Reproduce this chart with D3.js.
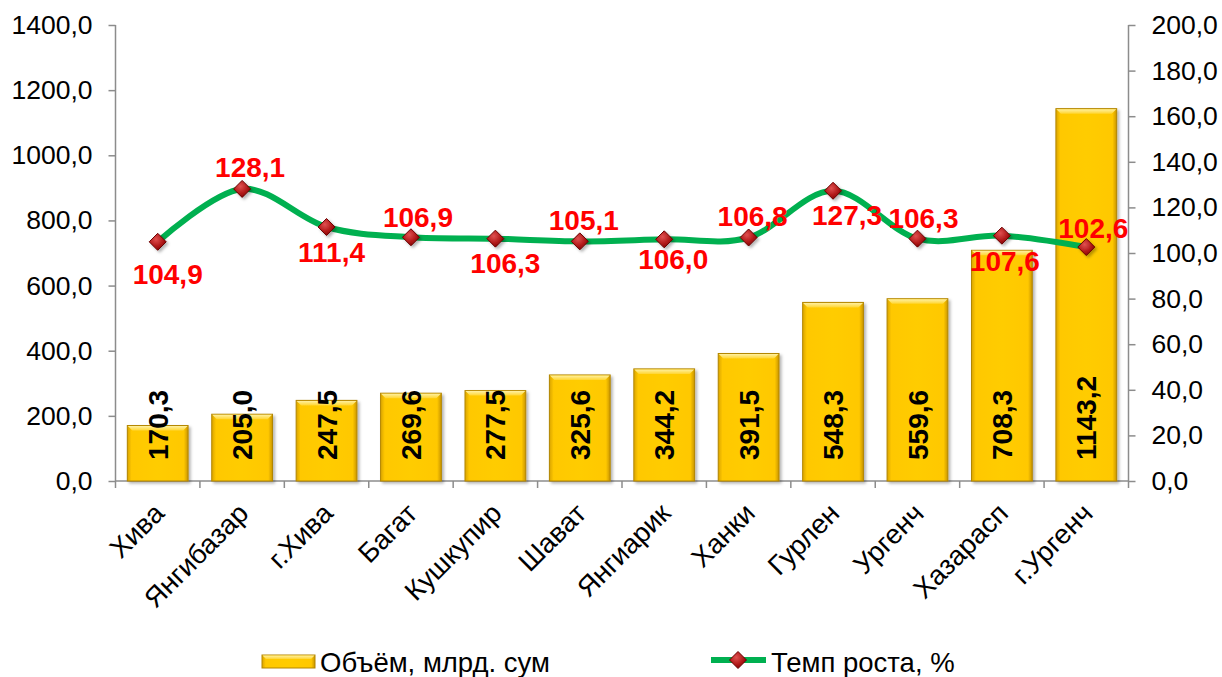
<!DOCTYPE html>
<html><head><meta charset="utf-8">
<script src="https://cdn.jsdelivr.net/npm/d3@7"></script>
<style>
html,body{margin:0;padding:0;background:#fff;}
svg{display:block;font-family:"Liberation Sans",Arial,sans-serif;}
</style></head>
<body>
<svg id="c" width="1222" height="677"></svg>
<script>
const categories = ["Хива","Янгибазар","г.Хива","Багат","Кушкупир","Шават","Янгиарик","Ханки","Гурлен","Ургенч","Хазарасп","г.Ургенч"];
const volume = [170.3,205.0,247.5,269.6,277.5,325.6,344.2,391.5,548.3,559.6,708.3,1143.2];
const growth = [104.9,128.1,111.4,106.9,106.3,105.1,106.0,106.8,127.3,106.3,107.6,102.6];
const leftTicks = [0,200,400,600,800,1000,1200,1400];
const rightTicks = [0,20,40,60,80,100,120,140,160,180,200];
const seriesNames = ["Объём, млрд. сум","Темп роста, %"];
// label placement for growth labels (layout config)
const growthLabelPos = [[10,32],[8,-22],[5,25],[7,-20],[10,24],[4,-21],[9,20],[4,-22],[14,24],[6,-21],[3,25],[7,-19]];

const svg = d3.select("#c");
const L = 115.5, R = 1128.5, T = 25, B = 481;
const fmt = v => d3.format(".1f")(v).replace(".", ",");

const x = d3.scaleBand().domain(categories).range([L, R]).paddingInner(0.28).paddingOuter(0.14);
const xc = d3.scaleBand().domain(categories).range([L, R]);
const yL = d3.scaleLinear().domain([0,1400]).range([B, T]);
const yR = d3.scaleLinear().domain([0,200]).range([B, T]);

const defs = svg.append("defs");
const gH = defs.append("linearGradient").attr("id","barH").attr("x1","0").attr("x2","1").attr("y1","0").attr("y2","0");
[[0,"#D9A400"],[0.07,"#FFC800"],[0.5,"#FFCC00"],[0.93,"#FFC800"],[1,"#C99500"]].forEach(s=>gH.append("stop").attr("offset",s[0]).attr("stop-color",s[1]));
const gT = defs.append("linearGradient").attr("id","barT").attr("x1","0").attr("x2","0").attr("y1","0").attr("y2","1");
[[0,"#FFF0A0"],[1,"#FFD633"]].forEach(s=>gT.append("stop").attr("offset",s[0]).attr("stop-color",s[1]));
const gM = defs.append("radialGradient").attr("id","mk").attr("cx","0.4").attr("cy","0.35").attr("r","0.7");
[[0,"#E05050"],[0.6,"#B01818"],[1,"#7A0000"]].forEach(s=>gM.append("stop").attr("offset",s[0]).attr("stop-color",s[1]));
const sh = defs.append("filter").attr("id","sh").attr("x","-20%").attr("y","-20%").attr("width","150%").attr("height","150%");
sh.append("feDropShadow").attr("dx",2).attr("dy",2).attr("stdDeviation",1.5).attr("flood-color","#000").attr("flood-opacity",0.3);

// axes
const axisColor = "#8C8C8C";
const gl = svg.append("g").attr("transform",`translate(${L},0)`).call(d3.axisLeft(yL).tickValues(leftTicks).tickFormat(fmt).tickSize(7).tickPadding(16));
const gr = svg.append("g").attr("transform",`translate(${R},0)`).call(d3.axisRight(yR).tickValues(rightTicks).tickFormat(fmt).tickSize(7).tickPadding(16));
[gl,gr].forEach(g=>{
  g.select(".domain").attr("stroke",axisColor).attr("stroke-width",1.5).attr("d", `M0,${T}V${B}`);
  g.selectAll(".tick line").attr("stroke",axisColor).attr("stroke-width",1.5);
  g.selectAll(".tick text").attr("font-size",26.5).attr("fill","#000").attr("font-family","Liberation Sans, Arial, sans-serif");
});
// x axis
const gx = svg.append("g");
gx.append("line").attr("x1",L).attr("x2",R).attr("y1",B).attr("y2",B).attr("stroke",axisColor).attr("stroke-width",1.5);
const bounds = categories.map(c=>xc(c)).concat([R]);
gx.selectAll("line.t").data(bounds).join("line").attr("class","t")
  .attr("x1",d=>d).attr("x2",d=>d).attr("y1",B).attr("y2",B+7).attr("stroke",axisColor).attr("stroke-width",1.5);
gx.selectAll("text").data(categories).join("text")
  .attr("transform",d=>`translate(${xc(d)+xc.bandwidth()/2+8},${B+34}) rotate(-45)`)
  .attr("text-anchor","end").attr("font-size",27.5).attr("fill","#000").text(d=>d);

// bars
const bars = svg.append("g");
const bg = bars.selectAll("g").data(categories).join("g").attr("filter","url(#sh)");
bg.append("rect").attr("x",d=>x(d)).attr("width",x.bandwidth())
  .attr("y",(d,i)=>yL(volume[i])).attr("height",(d,i)=>B-yL(volume[i]))
  .attr("fill","url(#barH)").attr("stroke","#B38600").attr("stroke-width",1);
bg.append("path").attr("d",(d,i)=>{const x0=x(d),w=x.bandwidth(),y0=yL(volume[i]);return `M${x0+0.5},${y0+0.5}H${x0+w-0.5}L${x0+w-5},${y0+5}H${x0+5}Z`;})
  .attr("fill","url(#barT)");
// bar labels
svg.append("g").selectAll("text").data(categories).join("text")
  .attr("transform",d=>`translate(${x(d)+x.bandwidth()/2},${B-21}) rotate(-90)`)
  .attr("dy","0.36em").attr("text-anchor","start").attr("font-size",28).attr("font-weight","bold").attr("fill","#000")
  .text((d,i)=>fmt(volume[i]));

// line
const cx = d => xc(d)+xc.bandwidth()/2;
const line = d3.line().x((d,i)=>cx(categories[i])).y(d=>yR(d)).curve(d3.curveCardinal.tension(0));
svg.append("path").datum(growth).attr("d",line).attr("fill","none").attr("stroke","#00B050").attr("stroke-width",6).attr("stroke-linejoin","round");
const diamond = s => `M0,${-s}L${s},0L0,${s}L${-s},0Z`;
svg.append("g").selectAll("path").data(growth).join("path")
  .attr("transform",(d,i)=>`translate(${cx(categories[i])},${yR(d)})`)
  .attr("d",diamond(8.5)).attr("fill","url(#mk)").attr("stroke","#6A0000").attr("stroke-width",1).attr("filter","url(#sh)");
svg.append("g").selectAll("text").data(growth).join("text")
  .attr("x",(d,i)=>cx(categories[i])+growthLabelPos[i][0]).attr("y",(d,i)=>yR(d)+growthLabelPos[i][1])
  .attr("dy","0.36em").attr("text-anchor","middle").attr("font-size",28).attr("font-weight","bold").attr("fill","#FF0000")
  .text(d=>fmt(d));

// legend
const lg = svg.append("g");
lg.append("rect").attr("x",262).attr("y",655).attr("width",53).attr("height",13).attr("fill","url(#barH)").attr("stroke","#B38600");
lg.append("path").attr("d","M262.5,655.5H314.5L311,659H266Z").attr("fill","url(#barT)");
lg.append("text").attr("x",320).attr("y",662).attr("dy","0.36em").attr("font-size",27.5).text(seriesNames[0]);
lg.append("line").attr("x1",711).attr("x2",766).attr("y1",660).attr("y2",660).attr("stroke","#00B050").attr("stroke-width",6);
lg.append("path").attr("transform","translate(738,660)").attr("d",diamond(8.5)).attr("fill","url(#mk)").attr("stroke","#6A0000");
lg.append("text").attr("x",771).attr("y",662).attr("dy","0.36em").attr("font-size",27.5).text(seriesNames[1]);
</script>
</body></html>
